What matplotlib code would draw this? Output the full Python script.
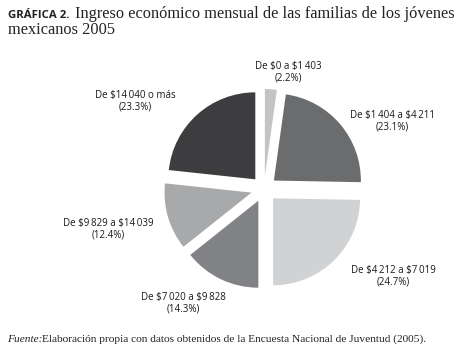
import matplotlib.pyplot as plt

# Datos: Encuesta Nacional de Juventud 2005
rangos = ["De $0 a $1\u2009403", "De $1\u2009404 a $4\u2009211", "De $4\u2009212 a $7\u2009019",
          "De $7\u2009020 a $9\u2009828", "De $9\u2009829 a $14\u2009039", "De $14\u2009040 o más"]
porcentajes = [2.2, 23.1, 24.7, 14.3, 12.4, 23.3]
colores = ["#c3c4c6", "#6b6c6e", "#d1d2d4", "#818285", "#a8a9ab", "#3d3d3f"]

# posiciones de las etiquetas (px, origen abajo-izquierda)
label_xy = [(288, 288), (392, 239), (393, 84), (183, 57), (108, 131), (135, 259)]

sans = ["Open Sans", "DejaVu Sans"]
serif = ["Liberation Serif", "DejaVu Serif"]

fig = plt.figure(figsize=(4.61, 3.6), dpi=100)
ax = fig.add_axes([0, 0, 1, 1])

ax.pie(porcentajes, colors=colores, startangle=90, counterclock=False,
       explode=[13] * len(porcentajes), center=(264, 171), radius=87,
       wedgeprops=dict(linewidth=0), frame=True)
ax.set_xlim(0, 461)
ax.set_ylim(0, 360)
ax.set_aspect("equal")
ax.axis("off")

for r, p, (x, y) in zip(rangos, porcentajes, label_xy):
    ax.text(x, y, f"{r}\n({p}%)", ha="center", va="center", fontsize=7,
            family=sans, linespacing=1.1, color="#1a1a1a", parse_math=False)

# titulo
fig.text(8 / 461, 1 - 18 / 360, "GRÁFICA 2.", family=sans, fontweight="bold",
         fontsize=8.2, color="#222222", va="baseline")
fig.text(75 / 461, 1 - 18 / 360, "Ingreso económico mensual de las familias de los jóvenes",
         family=serif, fontsize=11.8, color="#222222", va="baseline")
fig.text(8 / 461, 1 - 34 / 360, "mexicanos 2005", family=serif, fontsize=11.8,
         color="#222222", va="baseline")

# fuente
fig.text(7 / 461, 1 - 342 / 360, "Fuente:", family=serif, style="italic",
         fontsize=8.2, color="#222222", va="baseline")
fig.text(42 / 461, 1 - 342 / 360,
         "Elaboración propia con datos obtenidos de la Encuesta Nacional de Juventud (2005).",
         family=serif, fontsize=8.2, color="#222222", va="baseline")

fig.savefig("out.png", dpi=100, facecolor="white")
